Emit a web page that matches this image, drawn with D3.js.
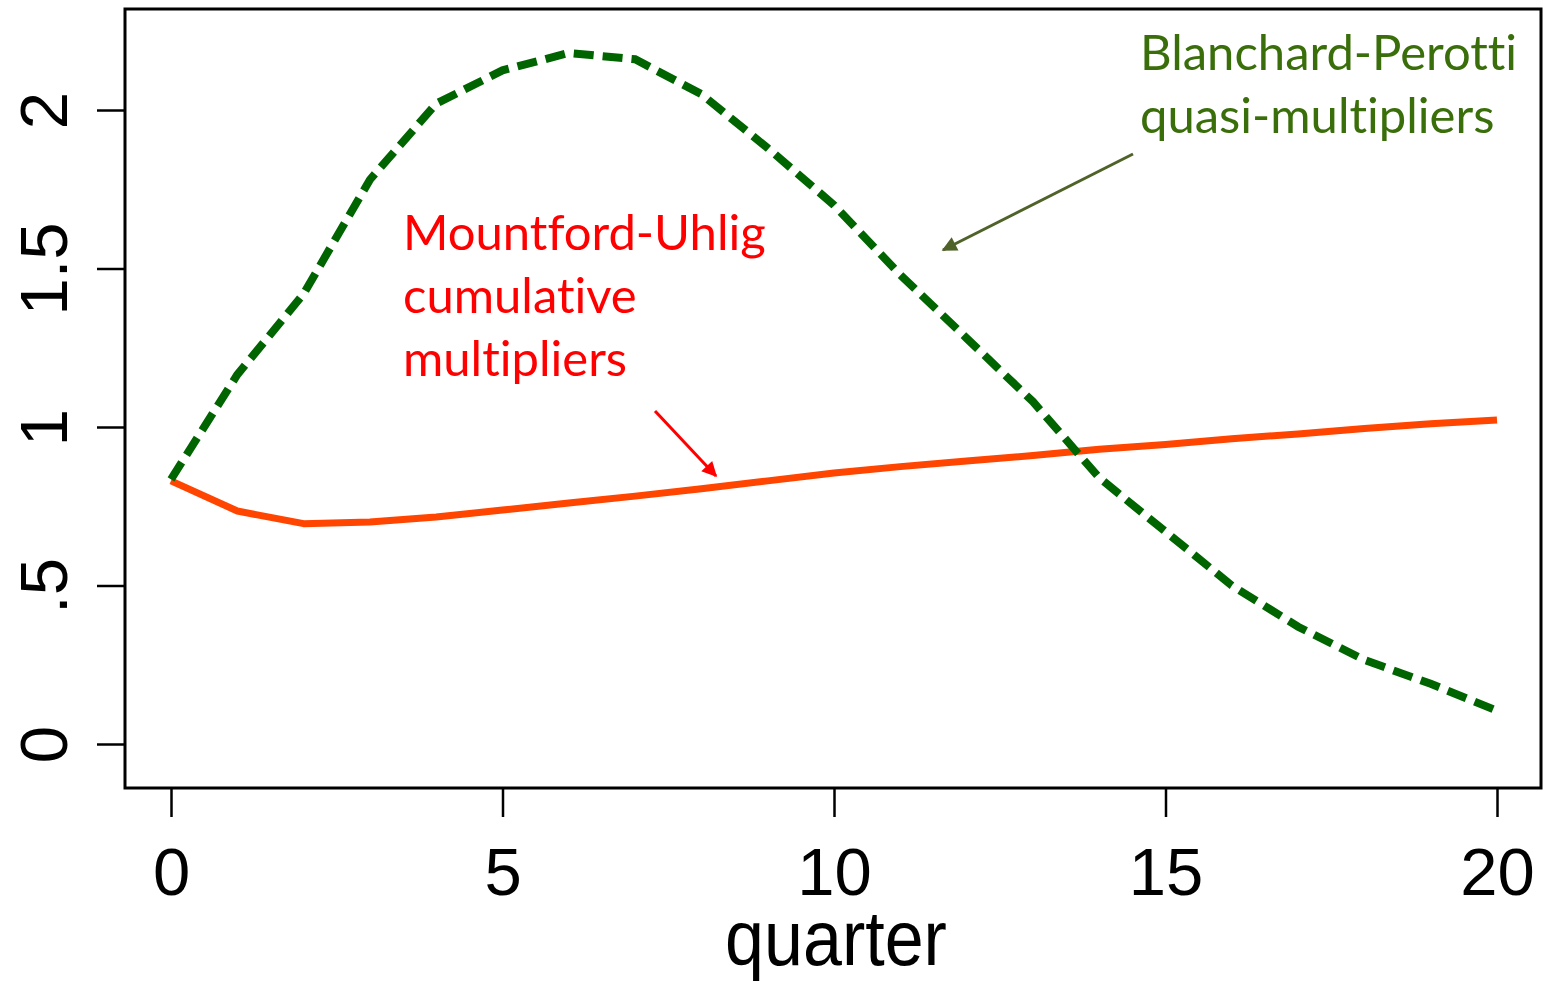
<!DOCTYPE html>
<html lang="en">
<head>
<meta charset="UTF-8">
<title>Multipliers by quarter</title>
<script src="https://cdn.jsdelivr.net/npm/d3@7"></script>
<style>
  body { margin: 0; background: #fff; }
  .tick text { font-family: "Liberation Sans", Arial, sans-serif; }
  .note { font-family: Lato, "Open Sans", sans-serif; font-size: 49px; font-variant-ligatures: none; }
</style>
</head>
<body>
<svg width="1548" height="982"></svg>
<script>
// quarters 0..20
var quarters = d3.range(0, 21);
// Blanchard-Perotti quasi-multipliers (green dashed)
var bpValues = [0.835, 1.165, 1.42, 1.78, 2.02, 2.125, 2.18, 2.16, 2.05, 1.88, 1.70,
                1.48, 1.28, 1.08, 0.84, 0.67, 0.50, 0.37, 0.265, 0.19, 0.105];
// Mountford-Uhlig cumulative multipliers (orange solid)
var muValues = [0.83, 0.735, 0.695, 0.70, 0.716, 0.738, 0.76, 0.782, 0.805, 0.83, 0.855,
                0.875, 0.893, 0.91, 0.93, 0.945, 0.963, 0.978, 0.995, 1.01, 1.022];
var xTicks = [0, 5, 10, 15, 20];
var yTicks = [0, 0.5, 1, 1.5, 2];
var yTickLabels = ["0", ".5", "1", "1.5", "2"];

var svg = d3.select("svg");

var x = d3.scaleLinear().domain([0, 20]).range([171, 1497]);
var y = d3.scaleLinear().domain([0, 2]).range([744, 110]);

// arrow heads
var defs = svg.append("defs");
function arrowHead(id, color) {
    defs.append("marker")
        .attr("id", id)
        .attr("viewBox", "0 0 10 10")
        .attr("refX", 9).attr("refY", 5)
        .attr("markerWidth", 6).attr("markerHeight", 5)
        .attr("markerUnits", "strokeWidth")
        .attr("orient", "auto")
      .append("path")
        .attr("d", "M0,0 L10,5 L0,10 Z")
        .attr("fill", color);
}
arrowHead("arrRed", "#ff0000");
arrowHead("arrGreen", "#4f6228");

// plot border
svg.append("rect")
    .attr("x", 125).attr("y", 9)
    .attr("width", 1416).attr("height", 779)
    .attr("fill", "none")
    .attr("stroke", "#000")
    .attr("stroke-width", 3);

// x axis
var xAxis = svg.append("g")
    .attr("transform", "translate(0,788)")
    .call(d3.axisBottom(x).tickValues(xTicks).tickSize(29).tickFormat(d3.format("d")));
xAxis.select(".domain").remove();
xAxis.selectAll(".tick line").attr("stroke", "#000").attr("stroke-width", 2.5);
xAxis.selectAll(".tick text")
    .attr("y", 107).attr("dy", 0)
    .attr("fill", "#000")
    .style("font-size", "67px");

// y axis, labels rotated
var yAxis = svg.append("g")
    .attr("transform", "translate(125,0)")
    .call(d3.axisLeft(y).tickValues(yTicks).tickSize(28)
        .tickFormat(function(d, i) { return yTickLabels[i]; }));
yAxis.select(".domain").remove();
yAxis.selectAll(".tick line").attr("stroke", "#000").attr("stroke-width", 2.5);
yAxis.selectAll(".tick text")
    .attr("x", 0).attr("dy", 0)
    .attr("text-anchor", "middle")
    .attr("transform", "translate(-58,0) rotate(-90)")
    .attr("fill", "#000")
    .style("font-size", "67px");

// x axis title
svg.append("text")
    .attr("transform", "translate(836,965) scale(1,1.1)")
    .attr("text-anchor", "middle")
    .style("font-family", "'Liberation Sans', Arial, sans-serif")
    .style("font-size", "70px")
    .text("quarter");

var line = d3.line()
    .x(function(d, i) { return x(quarters[i]); })
    .y(function(d) { return y(d); });

// orange line
svg.append("path")
    .datum(muValues)
    .attr("d", line)
    .attr("fill", "none")
    .attr("stroke", "#ff4500")
    .attr("stroke-width", 7)
    .attr("stroke-linejoin", "round");

// green dashed line
svg.append("path")
    .datum(bpValues)
    .attr("d", line)
    .attr("fill", "none")
    .attr("stroke", "#006400")
    .attr("stroke-width", 8)
    .attr("stroke-dasharray", "20,9");

// annotations
var muNote = svg.append("text").attr("class", "note").attr("fill", "#ff0000");
["Mountford-Uhlig", "cumulative", "multipliers"].forEach(function(s, i) {
    muNote.append("tspan").attr("x", 403).attr("y", 250 + i * 63).text(s);
});

var bpNote = svg.append("text").attr("class", "note").attr("fill", "#3a6e0a");
["Blanchard-Perotti", "quasi-multipliers"].forEach(function(s, i) {
    bpNote.append("tspan").attr("x", 1140).attr("y", 70 + i * 63).text(s);
});

svg.append("line")
    .attr("x1", 655).attr("y1", 411).attr("x2", 716).attr("y2", 476)
    .attr("stroke", "#ff0000").attr("stroke-width", 3)
    .attr("marker-end", "url(#arrRed)");

svg.append("line")
    .attr("x1", 1133).attr("y1", 154).attr("x2", 943).attr("y2", 250)
    .attr("stroke", "#4f6228").attr("stroke-width", 3)
    .attr("marker-end", "url(#arrGreen)");
</script>
</body>
</html>
